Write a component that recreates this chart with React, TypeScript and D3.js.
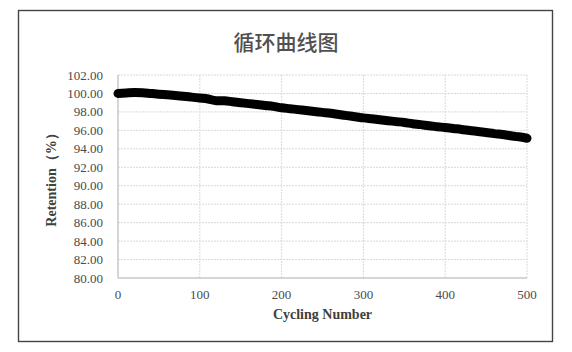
import { scaleLinear, line, curveMonotoneX, range } from 'd3';

const width = 572;
const height = 352;
const margin = { top: 75, right: 45, bottom: 74, left: 118 };
const innerWidth = width - margin.left - margin.right;
const innerHeight = height - margin.top - margin.bottom;

const chartTitle = '循环曲线图';
const xTitle = 'Cycling Number';
const yTitle = 'Retention（%）';

const xTicks = [0, 100, 200, 300, 400, 500];
const yTicks = [80, 82, 84, 86, 88, 90, 92, 94, 96, 98, 100, 102];

const cycles = [
  0, 10, 20, 30, 40, 50, 60, 70, 80, 90, 100, 110, 120, 130, 140, 150, 160, 170, 180, 190,
  200, 210, 220, 230, 240, 250, 260, 270, 280, 290, 300, 310, 320, 330, 340, 350, 360, 370,
  380, 390, 400, 410, 420, 430, 440, 450, 460, 470, 480, 490, 500,
];
const retention = [
  100.0, 100.05, 100.1, 100.08, 100.0, 99.92, 99.85, 99.78, 99.7, 99.6, 99.5, 99.4, 99.22,
  99.2, 99.1, 99.0, 98.9, 98.8, 98.7, 98.6, 98.45, 98.35, 98.25, 98.15, 98.05, 97.95, 97.85,
  97.72, 97.6, 97.48, 97.35, 97.25, 97.15, 97.05, 96.95, 96.85, 96.72, 96.62, 96.5, 96.4,
  96.3, 96.2, 96.1, 95.98, 95.88, 95.77, 95.65, 95.55, 95.42, 95.3, 95.15,
];

const serif = '"Liberation Serif", "DejaVu Serif", serif';

export default function App() {
  const xScale = scaleLinear().domain([0, 500]).range([0, innerWidth]);
  const yScale = scaleLinear().domain([80, 102]).range([innerHeight, 0]);

  const points = range(cycles.length).map((i) => [cycles[i], retention[i]] as [number, number]);
  const path = line<[number, number]>()
    .x((d) => xScale(d[0]))
    .y((d) => yScale(d[1]))
    .curve(curveMonotoneX)(points);

  return (
    <div style={{ position: 'absolute', left: 0, top: 0 }}>
      <svg width={width} height={height} style={{ display: 'block', background: '#fff' }}>
        <rect x={18.5} y={10.5} width={534} height={331} fill="#fff" stroke="#444" strokeWidth={1.4} />
        <text
          x={286}
          y={50}
          textAnchor="middle"
          fontSize={21}
          fontWeight={500}
          fill="#505050"
          fontFamily='"Noto Sans CJK SC", sans-serif'
        >
          {chartTitle}
        </text>
        <g transform={`translate(${margin.left},${margin.top})`}>
          {yTicks.map((v) => (
            <g key={'y' + v}>
              <line
                x1={0}
                x2={innerWidth}
                y1={yScale(v)}
                y2={yScale(v)}
                stroke="#d9d9d9"
                strokeDasharray={v === 80 ? undefined : '2,1'}
              />
              <text
                x={-15}
                y={yScale(v)}
                dy="0.35em"
                textAnchor="end"
                fontSize={13}
                fill="#4a4a4a"
                fontFamily={serif}
              >
                {v.toFixed(2)}
              </text>
            </g>
          ))}
          {xTicks.map((v) => (
            <g key={'x' + v}>
              <line
                x1={xScale(v)}
                x2={xScale(v)}
                y1={0}
                y2={innerHeight}
                stroke="#d9d9d9"
                strokeDasharray={v === 0 ? undefined : '2,1'}
              />
              <text
                x={xScale(v)}
                y={innerHeight + 21}
                textAnchor="middle"
                fontSize={13}
                fill="#4a4a4a"
                fontFamily={serif}
              >
                {v}
              </text>
            </g>
          ))}
          <line x1={0} x2={innerWidth} y1={innerHeight} y2={innerHeight} stroke="#bfbfbf" />
          <line x1={0} x2={0} y1={0} y2={innerHeight} stroke="#bfbfbf" />
          <path
            d={path ?? ''}
            fill="none"
            stroke="#000"
            strokeWidth={9}
            strokeLinecap="round"
            strokeLinejoin="round"
          />
          <text
            x={innerWidth / 2}
            y={innerHeight + 41}
            textAnchor="middle"
            fontSize={14}
            fontWeight="bold"
            fill="#404040"
            fontFamily={serif}
          >
            {xTitle}
          </text>
          <text
            transform={`translate(${-62},${innerHeight / 2}) rotate(-90)`}
            textAnchor="middle"
            fontSize={14}
            fontWeight="bold"
            fill="#404040"
            fontFamily={serif}
          >
            {yTitle}
          </text>
        </g>
      </svg>
    </div>
  );
}
